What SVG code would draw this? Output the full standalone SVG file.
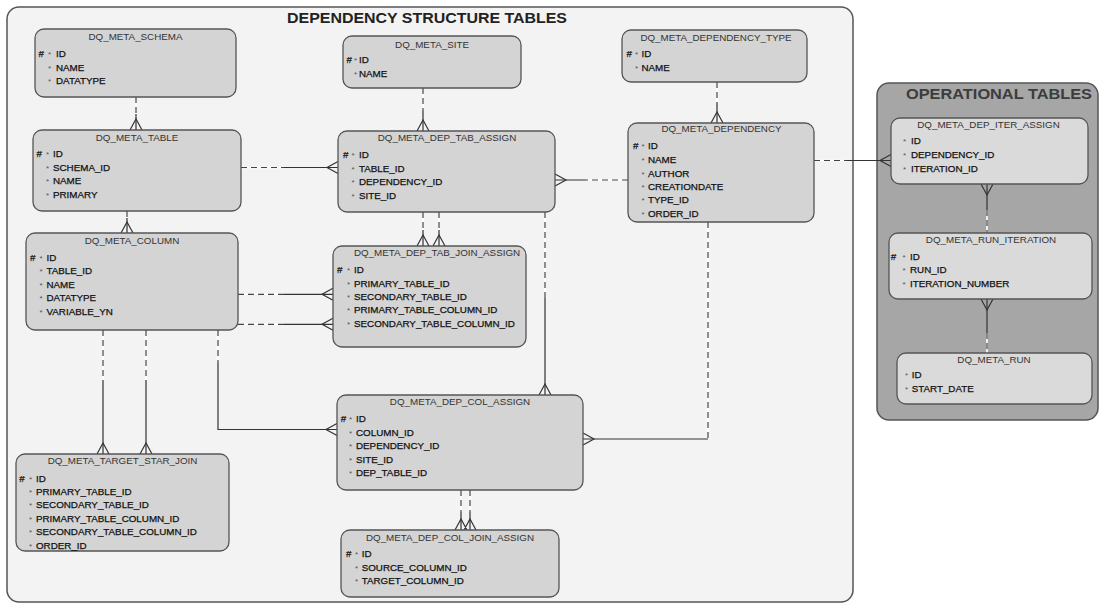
<svg xmlns="http://www.w3.org/2000/svg" width="1099" height="603" viewBox="0 0 1099 603">
<style>
.frame{fill:#f3f3f3;stroke:#555;stroke-width:1.5}
.oframe{fill:#a6a6a6;stroke:#555;stroke-width:1.5}
.nd{fill:#d4d4d4;stroke:#555;stroke-width:1.3}
.ond{fill:#dadada;stroke:#555;stroke-width:1.3}
.ft{font-family:"Liberation Sans",Arial,sans-serif;font-weight:bold;fill:#222}
.oft{font-family:"Liberation Sans",Arial,sans-serif;font-weight:bold;fill:#3c3c3c}
.tt{font-family:"Liberation Sans",Arial,sans-serif;font-size:9.8px;fill:#333;text-anchor:middle}
.rw{font-family:"Liberation Sans",Arial,sans-serif;font-size:9.8px;fill:#111;stroke:#111;stroke-width:0.25}
.a{font-size:8px;fill:#555;stroke:none}
.sl{stroke:#333;stroke-width:1.2;fill:none}
.wl{stroke:#fff;stroke-width:1.6;fill:none}
.dl{stroke:#444;stroke-width:1.2;fill:none;stroke-dasharray:6 4}
</style>
<rect class="frame" x="7" y="7" width="846" height="595" rx="12"/>
<text class="ft" x="427" y="23" font-size="15" text-anchor="middle" textLength="280" lengthAdjust="spacingAndGlyphs">DEPENDENCY STRUCTURE TABLES</text>
<rect class="oframe" x="877" y="83" width="221" height="337" rx="12"/>
<text class="oft" x="999" y="99" font-size="15" text-anchor="middle" textLength="186" lengthAdjust="spacingAndGlyphs">OPERATIONAL TABLES</text>

<g id="connectors">
<path class="wl" d="M136,97V114 M127,211V218 M241,167.5H284 M423,88V111 M717,82V103 M628,180H586 M814,160.5H847 M423,212V230 M439,212V230 M238,294.3H284 M238,324.3H284 M103,330V380 M146,330V380 M218,330V363 M545,212V298 M708,222V439 M461,490V512 M470,490V512 M987,210V233 M987,333V353"/>
<path class="dl" d="M136,97V114 M127,211V218 M241,167.5H284 M423,88V111 M717,82V103 M628,180H586 M814,160.5H847 M423,212V230 M439,212V230 M238,294.3H284 M238,324.3H284 M103,330V380 M146,330V380 M218,330V363 M545,212V298 M708,222V439 M461,490V512 M470,490V512 M987,210V233 M987,333V353"/>
<path class="sl" d="M136,114V130 M127,218V233 M284,167.5H338 M423,111V131 M717,103V123 M586,180H555 M847,160.5H891 M423,230V246 M439,230V246 M284,294.3H333 M284,324.3H333 M103,380V454 M146,380V454 M218,363V429.5H337 M545,298V395 M708,439H583 M461,512V530 M470,512V530 M987,184V210 M987,299V333"/>
<path class="sl" d="M130,130L136,119L142,130 M121,233L127,222L133,233 M338,161.5L327,167.5L338,173.5 M417,131L423,120L429,131 M711,123L717,112L723,123 M555,174L566,180L555,186 M891,154.5L880,160.5L891,166.5 M417,246L423,235L429,246 M433,246L439,235L445,246 M333,288.3L322,294.3L333,300.3 M333,318.3L322,324.3L333,330.3 M97,454L103,443L109,454 M140,454L146,443L152,454 M337,423.5L326,429.5L337,435.5 M539,395L545,384L551,395 M583,433L594,439L583,445 M455,530L461,519L467,530 M464,530L470,519L476,530 M981,184L987,195L993,184 M981,299L987,310L993,299"/>
</g>

<g id="n-schema">
<rect class="nd" x="35" y="29" width="201" height="68" rx="9"/>
<text class="tt" x="135.5" y="40">DQ_META_SCHEMA</text>
<text class="rw"><tspan x="38.5" y="57">#</tspan><tspan class="a" x="48">*</tspan><tspan x="56">ID</tspan><tspan class="a" x="48" y="70.5">*</tspan><tspan x="56">NAME</tspan><tspan class="a" x="48" y="84">*</tspan><tspan x="56">DATATYPE</tspan></text>
</g>

<g id="n-table">
<rect class="nd" x="33" y="130" width="208" height="81" rx="9"/>
<text class="tt" x="137" y="140.5">DQ_META_TABLE</text>
<text class="rw"><tspan x="36.5" y="157.3">#</tspan><tspan class="a" x="46">*</tspan><tspan x="53">ID</tspan><tspan class="a" x="46" y="170.7">*</tspan><tspan x="53">SCHEMA_ID</tspan><tspan class="a" x="46" y="184.2">*</tspan><tspan x="53">NAME</tspan><tspan class="a" x="46" y="197.5">*</tspan><tspan x="53">PRIMARY</tspan></text>
</g>

<g id="n-column">
<rect class="nd" x="26" y="233" width="212" height="97" rx="9"/>
<text class="tt" x="132" y="244">DQ_META_COLUMN</text>
<text class="rw"><tspan x="30" y="260.7">#</tspan><tspan class="a" x="39.5">*</tspan><tspan x="46.5">ID</tspan><tspan class="a" x="39.5" y="274.2">*</tspan><tspan x="46.5">TABLE_ID</tspan><tspan class="a" x="39.5" y="287.7">*</tspan><tspan x="46.5">NAME</tspan><tspan class="a" x="39.5" y="301.2">*</tspan><tspan x="46.5">DATATYPE</tspan><tspan class="a" x="39.5" y="314.7">*</tspan><tspan x="46.5">VARIABLE_YN</tspan></text>
</g>

<g id="n-site">
<rect class="nd" x="343" y="36" width="178" height="52" rx="9"/>
<text class="tt" x="432" y="48.3">DQ_META_SITE</text>
<text class="rw"><tspan x="346.5" y="63.3">#</tspan><tspan class="a" x="354">*</tspan><tspan x="359">ID</tspan><tspan class="a" x="354" y="76.7">*</tspan><tspan x="359">NAME</tspan></text>
</g>

<g id="n-dep-tab-assign">
<rect class="nd" x="338" y="131" width="217" height="81" rx="9"/>
<text class="tt" x="447" y="141">DQ_META_DEP_TAB_ASSIGN</text>
<text class="rw"><tspan x="343" y="157.7">#</tspan><tspan class="a" x="351.5">*</tspan><tspan x="359">ID</tspan><tspan class="a" x="351.5" y="171.5">*</tspan><tspan x="359">TABLE_ID</tspan><tspan class="a" x="351.5" y="185.3">*</tspan><tspan x="359">DEPENDENCY_ID</tspan><tspan class="a" x="351.5" y="199">*</tspan><tspan x="359">SITE_ID</tspan></text>
</g>

<g id="n-dependency-type">
<rect class="nd" x="622" y="30" width="185" height="52" rx="9"/>
<text class="tt" x="716" y="40.7">DQ_META_DEPENDENCY_TYPE</text>
<text class="rw"><tspan x="626.5" y="56.7">#</tspan><tspan class="a" x="635">*</tspan><tspan x="641.5">ID</tspan><tspan class="a" x="635" y="70.7">*</tspan><tspan x="641.5">NAME</tspan></text>
</g>

<g id="n-dependency">
<rect class="nd" x="628" y="123" width="186" height="99" rx="9"/>
<text class="tt" x="721.5" y="132.3">DQ_META_DEPENDENCY</text>
<text class="rw"><tspan x="633" y="149">#</tspan><tspan class="a" x="641.5">*</tspan><tspan x="648">ID</tspan><tspan class="a" x="641.5" y="163.3">*</tspan><tspan x="648">NAME</tspan><tspan class="a" x="641.5" y="176.7">*</tspan><tspan x="648">AUTHOR</tspan><tspan class="a" x="641.5" y="190">*</tspan><tspan x="648">CREATIONDATE</tspan><tspan class="a" x="641.5" y="203.3">*</tspan><tspan x="648">TYPE_ID</tspan><tspan class="a" x="641.5" y="216.7">*</tspan><tspan x="648">ORDER_ID</tspan></text>
</g>

<g id="n-dep-tab-join-assign">
<rect class="nd" x="333" y="246" width="193" height="101" rx="9"/>
<text class="tt" x="437" y="256">DQ_META_DEP_TAB_JOIN_ASSIGN</text>
<text class="rw"><tspan x="337" y="273.3">#</tspan><tspan class="a" x="347">*</tspan><tspan x="354">ID</tspan><tspan class="a" x="347" y="286.7">*</tspan><tspan x="354">PRIMARY_TABLE_ID</tspan><tspan class="a" x="347" y="300">*</tspan><tspan x="354">SECONDARY_TABLE_ID</tspan><tspan class="a" x="347" y="313.4">*</tspan><tspan x="354">PRIMARY_TABLE_COLUMN_ID</tspan><tspan class="a" x="347" y="326.8">*</tspan><tspan x="354">SECONDARY_TABLE_COLUMN_ID</tspan></text>
</g>

<g id="n-dep-col-assign">
<rect class="nd" x="337" y="395" width="246" height="95" rx="9"/>
<text class="tt" x="460" y="405">DQ_META_DEP_COL_ASSIGN</text>
<text class="rw"><tspan x="340.7" y="422.3">#</tspan><tspan class="a" x="349">*</tspan><tspan x="356">ID</tspan><tspan class="a" x="349" y="435.7">*</tspan><tspan x="356">COLUMN_ID</tspan><tspan class="a" x="349" y="449">*</tspan><tspan x="356">DEPENDENCY_ID</tspan><tspan class="a" x="349" y="462.5">*</tspan><tspan x="356">SITE_ID</tspan><tspan class="a" x="349" y="476">*</tspan><tspan x="356">DEP_TABLE_ID</tspan></text>
</g>

<g id="n-dep-col-join-assign">
<rect class="nd" x="341" y="530" width="218" height="67" rx="9"/>
<text class="tt" x="450" y="540.7">DQ_META_DEP_COL_JOIN_ASSIGN</text>
<text class="rw"><tspan x="346" y="557.3">#</tspan><tspan class="a" x="355">*</tspan><tspan x="361.7">ID</tspan><tspan class="a" x="355" y="571">*</tspan><tspan x="361.7">SOURCE_COLUMN_ID</tspan><tspan class="a" x="355" y="584.3">*</tspan><tspan x="361.7">TARGET_COLUMN_ID</tspan></text>
</g>

<g id="n-target-star-join">
<rect class="nd" x="16" y="454" width="213" height="97" rx="9"/>
<text class="tt" x="122.5" y="464.3">DQ_META_TARGET_STAR_JOIN</text>
<text class="rw"><tspan x="19.3" y="481.7">#</tspan><tspan class="a" x="29">*</tspan><tspan x="36">ID</tspan><tspan class="a" x="29" y="495">*</tspan><tspan x="36">PRIMARY_TABLE_ID</tspan><tspan class="a" x="29" y="508.3">*</tspan><tspan x="36">SECONDARY_TABLE_ID</tspan><tspan class="a" x="29" y="521.7">*</tspan><tspan x="36">PRIMARY_TABLE_COLUMN_ID</tspan><tspan class="a" x="29" y="535">*</tspan><tspan x="36">SECONDARY_TABLE_COLUMN_ID</tspan><tspan class="a" x="29" y="549">*</tspan><tspan x="36">ORDER_ID</tspan></text>
</g>

<g id="n-dep-iter-assign">
<rect class="ond" x="891" y="118" width="197" height="66" rx="9"/>
<text class="tt" x="988.5" y="127.7">DQ_META_DEP_ITER_ASSIGN</text>
<text class="rw"><tspan class="a" x="903" y="144.3">*</tspan><tspan x="911">ID</tspan><tspan class="a" x="903" y="158">*</tspan><tspan x="911">DEPENDENCY_ID</tspan><tspan class="a" x="903" y="171.7">*</tspan><tspan x="911">ITERATION_ID</tspan></text>
</g>

<g id="n-run-iteration">
<rect class="ond" x="889" y="233" width="203" height="66" rx="9"/>
<text class="tt" x="991" y="242.7">DQ_META_RUN_ITERATION</text>
<text class="rw"><tspan x="890.7" y="260">#</tspan><tspan class="a" x="902.5">*</tspan><tspan x="910">ID</tspan><tspan class="a" x="902.5" y="273.3">*</tspan><tspan x="910">RUN_ID</tspan><tspan class="a" x="902.5" y="286.7">*</tspan><tspan x="910">ITERATION_NUMBER</tspan></text>
</g>

<g id="n-run">
<rect class="ond" x="897" y="353" width="195" height="51" rx="9"/>
<text class="tt" x="994" y="362.7">DQ_META_RUN</text>
<text class="rw"><tspan class="a" x="905" y="378.3">*</tspan><tspan x="911.7">ID</tspan><tspan class="a" x="905" y="392.3">*</tspan><tspan x="911.7">START_DATE</tspan></text>
</g>
</svg>
